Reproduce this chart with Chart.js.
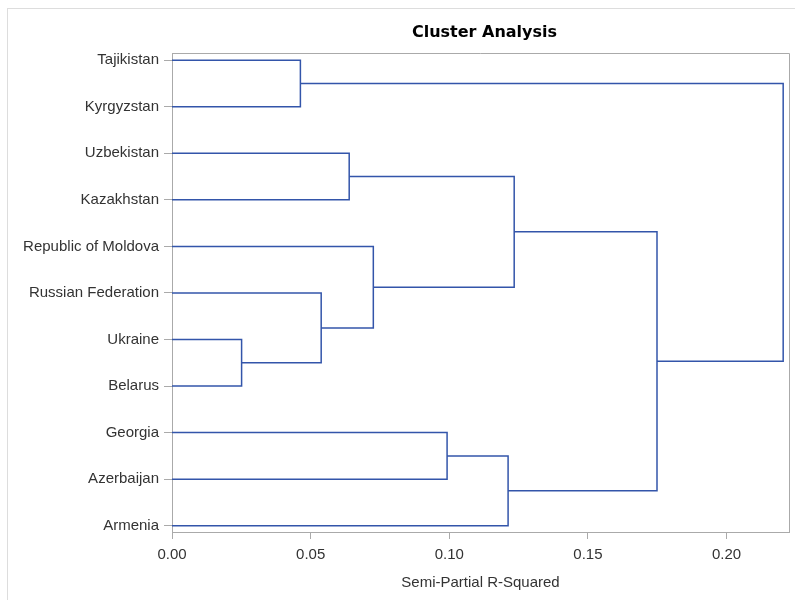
<!DOCTYPE html>
<html>
<head>
<meta charset="utf-8">
<script src="https://cdn.jsdelivr.net/npm/chart.js@4.4.1/dist/chart.umd.min.js"></script>
<style>
html,body{margin:0;padding:0;background:#fff;}
#frame{position:absolute;left:7px;top:8px;width:800px;height:600px;border:1px solid #ddd;box-sizing:border-box;}
#wrap{position:absolute;left:0;top:0;width:795px;height:600px;}
</style>
</head>
<body>
<div id="frame"></div>
<div id="wrap"><canvas id="c" width="795" height="600"></canvas></div>
<script>
// Leaves (top to bottom)
const leaves = ["Tajikistan","Kyrgyzstan","Uzbekistan","Kazakhstan","Republic of Moldova","Russian Federation","Ukraine","Belarus","Georgia","Azerbaijan","Armenia"];
// Merges: ids 0..10 are leaves, new clusters get ids 11, 12, ...
const mergeLeft   = [6, 0, 5, 2, 4, 8, 10, 14, 18, 12];
const mergeRight  = [7, 1, 11, 3, 13, 9, 16, 15, 17, 19];
const mergeHeight = [0.0251, 0.0463, 0.0538, 0.0639, 0.0726, 0.0992, 0.1212, 0.1234, 0.1749, 0.2204];
const xTicks = [0, 0.05, 0.10, 0.15, 0.20];
const titleText = 'Cluster Analysis';

const nodeY = leaves.map((_, i) => i);
const nodeH = leaves.map(() => 0);
const datasets = [];
for (let k = 0; k < mergeLeft.length; k++) {
  const a = mergeLeft[k], b = mergeRight[k], h = mergeHeight[k];
  datasets.push({
    data: [
      {x: nodeH[a], y: nodeY[a]},
      {x: h, y: nodeY[a]},
      {x: h, y: nodeY[b]},
      {x: nodeH[b], y: nodeY[b]}
    ],
    showLine: true, borderColor: '#3355aa', borderWidth: 1.5,
    pointRadius: 0, fill: false, tension: 0
  });
  nodeY.push((nodeY[a] + nodeY[b]) / 2);
  nodeH.push(h);
}

const FONT = "'Liberation Sans', Arial, sans-serif";
new Chart(document.getElementById('c'), {
  type: 'scatter',
  data: { datasets },
  options: {
    responsive: false, animation: false,
    layout: { padding: { left: 0, right: 6, top: 53, bottom: 8 } },
    plugins: {
      legend: { display: false }, tooltip: { enabled: false },
      title: { display: false }
    },
    scales: {
      x: {
        type: 'linear', min: 0, max: 0.2225,
        afterBuildTicks: s => { s.ticks = xTicks.map(v => ({value: v})); },
        afterFit: s => { s.height = 60; },
        grid: { display: true, drawOnChartArea: false, drawTicks: true, tickLength: 7, tickColor: '#aaa' },
        border: { display: true, color: '#aaa' },
        ticks: { color: '#333', font: { family: FONT, size: 15 }, padding: 7,
          callback: v => v.toFixed(2), maxRotation: 0 },
        title: { display: true, text: 'Semi-Partial R-Squared', color: '#333',
          font: { family: FONT, size: 15 }, padding: { top: 2, bottom: 0 } }
      },
      y: {
        type: 'linear', reverse: true, min: -0.155, max: 10.135,
        afterBuildTicks: s => { s.ticks = leaves.map((_, i) => ({value: i})); },
        afterFit: s => { s.width = 172; },
        grid: { display: true, drawOnChartArea: false, drawTicks: true, tickLength: 8, tickColor: '#aaa' },
        border: { display: true, color: '#aaa' },
        ticks: { color: '#333', font: { family: FONT, size: 15 }, padding: 5,
          callback: v => leaves[v] }
      }
    }
  },
  plugins: [{
    id: 'boxAndTitle',
    afterDraw(chart) {
      const {ctx, chartArea: a} = chart;
      ctx.save();
      ctx.strokeStyle = '#aaa'; ctx.lineWidth = 1;
      ctx.beginPath();
      ctx.moveTo(a.left, a.top + 0.5); ctx.lineTo(a.right + 0.5, a.top + 0.5);
      ctx.lineTo(a.right + 0.5, a.bottom);
      ctx.stroke();
      ctx.fillStyle = '#000';
      ctx.font = "bold 16px 'DejaVu Sans', sans-serif";
      ctx.textAlign = 'center'; ctx.textBaseline = 'middle';
      ctx.fillText(titleText, (a.left + a.right) / 2 + 4, 33);
      ctx.restore();
    }
  }]
});
</script>
</body>
</html>
